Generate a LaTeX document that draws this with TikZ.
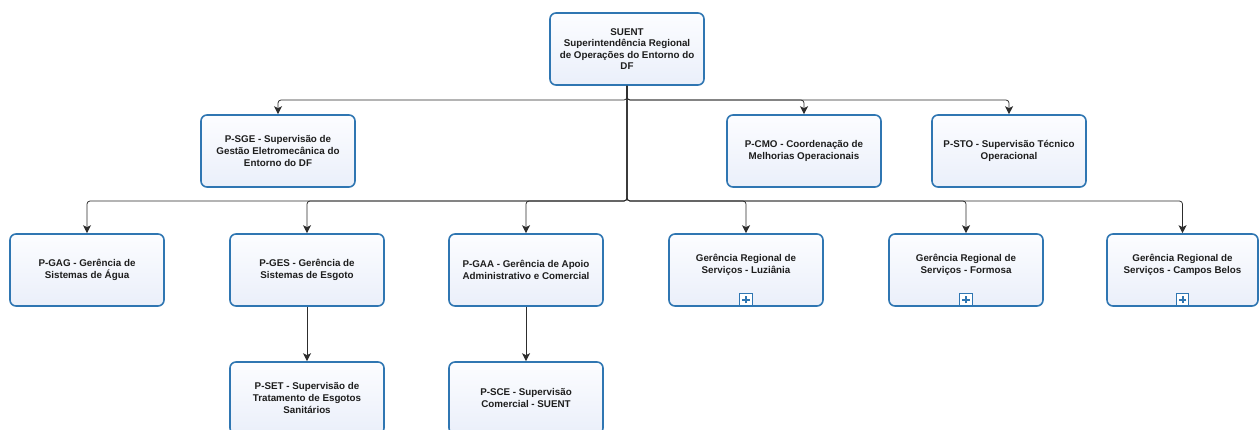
\documentclass[tikz,border=0pt]{standalone}
\usepackage{fontspec}
\setmainfont{Liberation Sans}
\usetikzlibrary{arrows.meta}
\definecolor{boxedge}{RGB}{47,118,178}
\definecolor{boxtop}{RGB}{252,253,255}
\definecolor{boxbot}{RGB}{234,239,250}
\definecolor{wire}{RGB}{45,45,45}
\definecolor{ink}{RGB}{30,30,30}
\begin{document}
\begin{tikzpicture}[x=1pt,y=-1pt,
  unit/.style={draw=boxedge, line width=1.6pt, rounded corners=6pt,
    top color=boxtop, bottom color=boxbot,
    minimum width=154pt, minimum height=72pt, inner sep=0pt,
    align=center, text=ink,
    font=\fontsize{9.8}{11.6}\selectfont\bfseries},
  link/.style={draw=wire, line width=0.75pt, rounded corners=3pt,
    -{Stealth[length=8pt,width=8pt,inset=2pt]}},
  plusbox/.style={draw=boxedge, line width=1.4pt, fill=white,
    minimum size=12.5pt, inner sep=0pt}
]
\useasboundingbox (0,0) rectangle (1260,430);
\clip (0,0) rectangle (1260,430);
\fill[white] (0,0) rectangle (1260,430);

% top unit
\node[unit] (suent) at (627,49) {SUENT\\Superintendência Regional\\de Operações do Entorno do\\DF};

% staff units
\node[unit] (psge) at (278,151) {P-SGE - Supervisão de\\Gestão Eletromecânica do\\Entorno do DF};
\node[unit] (pcmo) at (804,151) {P-CMO - Coordenação de\\Melhorias Operacionais};
\node[unit] (psto) at (1009,151) {P-STO - Supervisão Técnico\\Operacional};

% line units
\node[unit] (pgag) at (87,270) {P-GAG - Gerência de\\Sistemas de Água};
\node[unit] (pges) at (307,270) {P-GES - Gerência de\\Sistemas de Esgoto};
\node[unit] (pgaa) at (526,270) {P-GAA - Gerência de Apoio\\Administrativo e Comercial};
\node[unit] (luz) at (746,270) {Gerência Regional de\\Serviços - Luziânia\\[1pt]\mbox{}};
\node[unit] (for) at (966,270) {Gerência Regional de\\Serviços - Formosa\\[1pt]\mbox{}};
\node[unit, minimum width=151pt] (cbe) at (1182.5,270) {Gerência Regional de\\Serviços - Campos Belos\\[1pt]\mbox{}};

% third level
\node[unit] (pset) at (307,398) {P-SET - Supervisão de\\Tratamento de Esgotos\\Sanitários};
\node[unit] (psce) at (526,398) {P-SCE - Supervisão\\Comercial - SUENT};

% expand markers sitting on the bottom edge
\foreach \n in {luz,for,cbe}{
  \node[plusbox] (\n-plus) at ([yshift=7pt]\n.south) {};
  \draw[boxedge, line width=2pt] ([xshift=-3.6pt]\n-plus.center) -- ([xshift=3.6pt]\n-plus.center)
    ([yshift=-3.6pt]\n-plus.center) -- ([yshift=3.6pt]\n-plus.center);
}

% bus junctions
\coordinate (busA) at (627,100);
\coordinate (busB) at (627,201);

\foreach \n in {psge,pcmo,psto}
  \draw[link] (suent.south) -- (busA) -| (\n.north);
\foreach \n in {pgag,pges,pgaa,luz,for,cbe}
  \draw[link] (suent.south) -- (busB) -| (\n.north);
\draw[link] (pges.south) -- (pset.north);
\draw[link] (pgaa.south) -- (psce.north);
\end{tikzpicture}
\end{document}
